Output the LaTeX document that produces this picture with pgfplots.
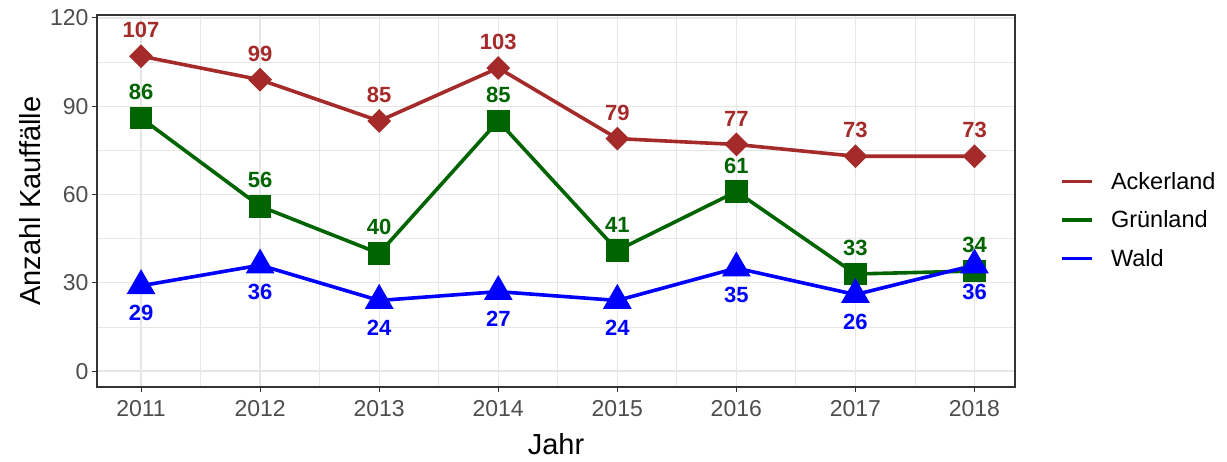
\documentclass[border=0pt]{standalone}
\usepackage{pgfplots}
\pgfplotsset{compat=1.18}
\usepackage{fontspec}
\setmainfont{Liberation Sans}
\definecolor{acker}{HTML}{A52A2A}
\definecolor{gruen}{HTML}{006400}
\definecolor{wald}{HTML}{0000FF}
\definecolor{gridc}{HTML}{E6E6E6}
\definecolor{tickc}{HTML}{4D4D4D}
\definecolor{framec}{HTML}{333333}
\begin{document}
\begin{tikzpicture}
\begin{axis}[
  at={(0pt,0pt)}, anchor=south west,
  scale only axis, width=918pt, height=372pt,
  xmin=2010.63, xmax=2018.34, ymin=-5.4, ymax=121,
  xtick={2011,...,2018}, ytick={0,30,...,120},
  minor xtick={2010.5,2011.5,...,2018.5},
  minor ytick={15,45,75,105},
  grid=both,
  major grid style={gridc, line width=1.3pt},
  minor grid style={gridc, line width=0.7pt},
  axis line style={framec, line width=1.1pt},
  tick style={framec, line width=1.1pt},
  major tick length=5pt, minor tick length=0pt, tick align=outside,
  xtick pos=bottom, ytick pos=left,
  /pgf/number format/1000 sep={},
  /pgf/number format/assume math mode=true,
  ticklabel style={font=\fontsize{23}{27}\selectfont, text=tickc},
  xticklabel style={yshift=-5pt},
  xlabel={Jahr}, ylabel={Anzahl Kauffälle},
  xlabel style={at={(axis description cs:0.5,-0.153)}, anchor=center, font=\fontsize{29}{33}\selectfont},
  ylabel style={at={(axis description cs:-0.073,0.5)}, anchor=center, rotate=0, font=\fontsize{29}{33}\selectfont},
  legend cell align=left,
  legend style={draw=none, fill=none, at={(axis description cs:1.046,0.449)}, anchor=west,
    font=\fontsize{23.5}{27}\selectfont, row sep=16pt},
  legend image code/.code={\draw[#1, mark=none, line width=3.6pt] (0pt,0pt) -- (30pt,0pt);},
]
\addplot[acker, line width=3.6pt, mark=square*, mark size=6.6pt, mark options={rotate=45, solid}] coordinates {
 (2011,107) (2012,99) (2013,85) (2014,103) (2015,79) (2016,77) (2017,73) (2018,73)};
\addlegendentry{\hspace{15pt}Ackerland}
\addplot[gruen, line width=3.6pt, mark=square*, mark size=9.5pt] coordinates {
 (2011,86) (2012,56) (2013,40) (2014,85) (2015,41) (2016,61) (2017,33) (2018,34)};
\addlegendentry{\hspace{15pt}Grünland}
\addplot[wald, line width=3.6pt, mark=triangle*, mark size=13pt] coordinates {
 (2011,29) (2012,36) (2013,24) (2014,27) (2015,24) (2016,35) (2017,26) (2018,36)};
\addlegendentry{\hspace{15pt}Wald}
% labels
\addplot[draw=none, forget plot, nodes near coords, point meta=explicit symbolic,
  every node near coord/.append style={anchor=center, yshift=26pt, text=acker, font=\bfseries\fontsize{22}{25}\selectfont}]
  coordinates {(2011,107)[107] (2012,99)[99] (2013,85)[85] (2014,103)[103] (2015,79)[79] (2016,77)[77] (2017,73)[73] (2018,73)[73]};
\addplot[draw=none, forget plot, nodes near coords, point meta=explicit symbolic,
  every node near coord/.append style={anchor=center, yshift=26pt, text=gruen, font=\bfseries\fontsize{22}{25}\selectfont}]
  coordinates {(2011,86)[86] (2012,56)[56] (2013,40)[40] (2014,85)[85] (2015,41)[41] (2016,61)[61] (2017,33)[33] (2018,34)[34]};
\addplot[draw=none, forget plot, nodes near coords, point meta=explicit symbolic,
  every node near coord/.append style={anchor=center, yshift=-27pt, text=wald, font=\bfseries\fontsize{22}{25}\selectfont}]
  coordinates {(2011,29)[29] (2012,36)[36] (2013,24)[24] (2014,27)[27] (2015,24)[24] (2016,35)[35] (2017,26)[26] (2018,36)[36]};
\end{axis}
\pgfresetboundingbox
\path[use as bounding box] (-97pt,-75pt) rectangle (1130pt,387pt);
\end{tikzpicture}
\end{document}
